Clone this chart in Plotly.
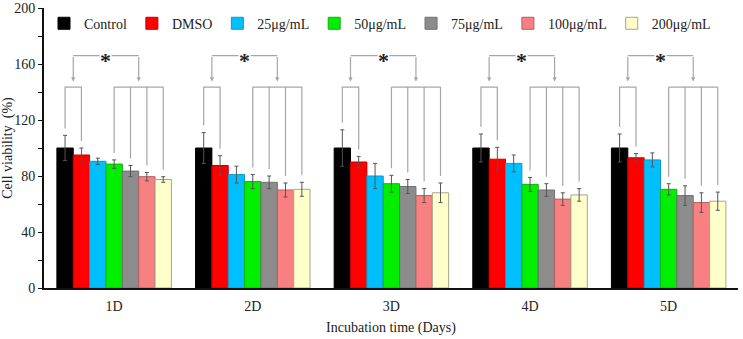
import plotly.graph_objects as go

days = ["1D", "2D", "3D", "4D", "5D"]
series_names = ["Control", "DMSO", "25μg/mL", "50μg/mL", "75μg/mL", "100μg/mL", "200μg/mL"]

control = [100, 100, 100, 100, 100]
control_err = [9, 11, 13, 10, 10]
dmso = [95, 87.5, 90, 92, 93]
dmso_err = [5, 7, 4, 8.5, 3]
c25 = [90.5, 81, 80, 89, 91.5]
c25_err = [2.2, 6, 9, 6, 5]
c50 = [88.5, 76, 74.5, 74, 70.5]
c50_err = [3, 5, 6, 5, 4]
c75 = [83.5, 75.5, 72.5, 70, 66]
c75_err = [4, 4.5, 5, 4.5, 7]
c100 = [79.5, 70, 66, 63.5, 61]
c100_err = [3, 5, 5, 4.5, 7]
c200 = [77.5, 70.5, 68, 66.5, 62]
c200_err = [2, 5, 7, 4.5, 6.5]

values = [control, dmso, c25, c50, c75, c100, c200]
errors = [control_err, dmso_err, c25_err, c50_err, c75_err, c100_err, c200_err]

fill_colors = ["#000000", "#ff0000", "#00bfff", "#00ee00", "#8c8c8c", "#f88080", "#ffffcc"]
line_colors = ["#000000", "#c00000", "#1098c8", "#10b010", "#707070", "#b06060", "#a8a490"]

SERIF = "Liberation Serif, Times New Roman, serif"
BRACKET = "#a6a6a6"
BARGAP = 0.174
N = len(series_names)
W = (1 - BARGAP) / N

fig = go.Figure()
for name, v, e, fc, lc in zip(series_names, values, errors, fill_colors, line_colors):
    fig.add_trace(go.Bar(
        name=name, x=days, y=v,
        marker=dict(color=fc, line=dict(color=lc, width=1)),
        error_y=dict(type="data", array=e, visible=True, color="#555555", thickness=1, width=2),
    ))

# significance brackets
LOW_Y = 143.5
UP_Y = 166
TIP_Y = 147.5
GAP = 5
shapes = []
annotations = []
for g in range(len(days)):
    cx = [g + (i - (N - 1) / 2) * W for i in range(N)]
    tops = [values[i][g] + errors[i][g] + GAP for i in range(N)]
    path1 = f"M {cx[0]},{tops[0]} L {cx[0]},{LOW_Y} L {cx[1]},{LOW_Y} L {cx[1]},{tops[1]}"
    shapes.append(dict(type="path", path=path1, xref="x", yref="y", line=dict(color=BRACKET, width=1.2)))
    path2 = f"M {cx[3]},{LOW_Y} L {cx[6]},{LOW_Y}"
    for i in range(3, 7):
        path2 += f" M {cx[i]},{LOW_Y} L {cx[i]},{tops[i]}"
    shapes.append(dict(type="path", path=path2, xref="x", yref="y", line=dict(color=BRACKET, width=1.2)))
    L = (cx[0] + cx[1]) / 2
    R = (cx[3] + cx[6]) / 2
    shapes.append(dict(type="line", x0=L, x1=R, y0=UP_Y, y1=UP_Y, xref="x", yref="y",
                       line=dict(color=BRACKET, width=1.2)))
    for xx in (L, R):
        annotations.append(dict(x=xx, y=TIP_Y, ax=xx, ay=UP_Y, xref="x", yref="y", axref="x", ayref="y",
                                text="", showarrow=True, arrowhead=2, arrowsize=0.7, arrowwidth=1.2,
                                arrowcolor=BRACKET, standoff=0))
    annotations.append(dict(x=(L + R) / 2, y=UP_Y, xref="x", yref="y", text="<b>*</b>", showarrow=False,
                            font=dict(family=SERIF, size=22, color="#222222"), bgcolor="white",
                            yshift=-5, borderpad=0))

fig.update_layout(
    width=743, height=339,
    margin=dict(l=44, r=5, t=8, b=51, autoexpand=False),
    paper_bgcolor="white", plot_bgcolor="white",
    barmode="group", bargap=BARGAP, bargroupgap=0,
    font=dict(family=SERIF, size=13, color="#222222"),
    showlegend=True,
    legend=dict(orientation="h", x=0.0, xanchor="left", y=0.944, yanchor="middle",
                font=dict(family=SERIF, size=14, color="#222222"), bgcolor="rgba(0,0,0,0)",
                itemclick=False, traceorder="normal"),
    shapes=shapes, annotations=annotations,
    xaxis=dict(range=[-0.506, 4.5], showline=True, linecolor="#111111", linewidth=2, automargin=False,
               ticks="", showgrid=False, zeroline=False, ticklabelstandoff=4,
               tickfont=dict(family=SERIF, size=14, color="#222222"),
               title=dict(text="Incubation time (Days)", font=dict(family=SERIF, size=14, color="#222222"),
                          standoff=9)),
    yaxis=dict(range=[0, 200], tickvals=[0, 40, 80, 120, 160, 200], showline=True, linecolor="#111111",
               linewidth=2, ticks="outside", ticklen=4, tickwidth=1, tickcolor="#111111", automargin=False,
               minor=dict(tickvals=[20, 60, 100, 140, 180], ticks="outside", ticklen=4, tickcolor="#111111"),
               showgrid=False, zeroline=False,
               tickfont=dict(family=SERIF, size=14, color="#222222"),
               title=dict(text="Cell viability  (%)", font=dict(family=SERIF, size=14, color="#222222"),
                          standoff=2)),
)

fig.write_html("out.html", config={"displayModeBar": False},
               post_script="document.body.style.margin='0';")
